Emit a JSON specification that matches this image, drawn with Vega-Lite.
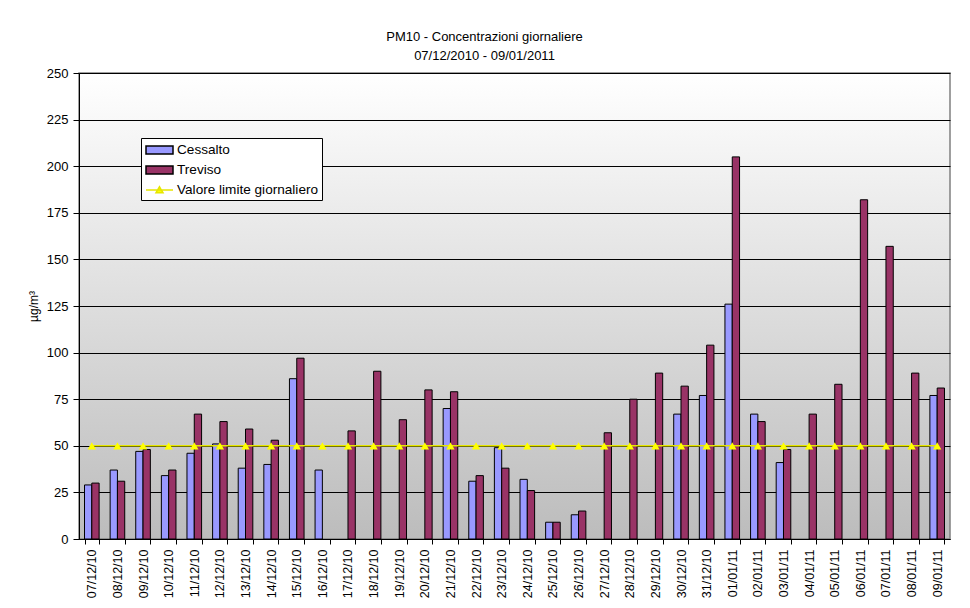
{
  "$schema": "https://vega.github.io/schema/vega-lite/v6.json",
  "width": 871,
  "height": 466,
  "autosize": {"type": "none"},
  "padding": {"left": 79, "top": 73, "right": 20, "bottom": 69},
  "background": "white",
  "title": {
    "text": ["PM10 - Concentrazioni giornaliere", "07/12/2010 - 09/01/2011"],
    "font": "Liberation Sans",
    "fontSize": 13,
    "fontWeight": "normal",
    "lineHeight": 19,
    "anchor": "middle",
    "dx": -30,
    "offset": 4,
    "color": "black"
  },
  "config": {
    "font": "Liberation Sans",
    "view": {
      "stroke": "#808080",
      "strokeWidth": 1.5,
      "fill": {
        "gradient": "linear",
        "x1": 0, "y1": 0, "x2": 0, "y2": 1,
        "stops": [
          {"offset": 0, "color": "#ffffff"},
          {"offset": 1, "color": "#bcbcbc"}
        ]
      }
    }
  },
  "data": {
    "values": [
      {"date": "07/12/10", "Cessalto": 29, "Treviso": 30, "Limite": 50},
      {"date": "08/12/10", "Cessalto": 37, "Treviso": 31, "Limite": 50},
      {"date": "09/12/10", "Cessalto": 47, "Treviso": 48, "Limite": 50},
      {"date": "10/12/10", "Cessalto": 34, "Treviso": 37, "Limite": 50},
      {"date": "11/12/10", "Cessalto": 46, "Treviso": 67, "Limite": 50},
      {"date": "12/12/10", "Cessalto": 51, "Treviso": 63, "Limite": 50},
      {"date": "13/12/10", "Cessalto": 38, "Treviso": 59, "Limite": 50},
      {"date": "14/12/10", "Cessalto": 40, "Treviso": 53, "Limite": 50},
      {"date": "15/12/10", "Cessalto": 86, "Treviso": 97, "Limite": 50},
      {"date": "16/12/10", "Cessalto": 37, "Treviso": null, "Limite": 50},
      {"date": "17/12/10", "Cessalto": null, "Treviso": 58, "Limite": 50},
      {"date": "18/12/10", "Cessalto": null, "Treviso": 90, "Limite": 50},
      {"date": "19/12/10", "Cessalto": null, "Treviso": 64, "Limite": 50},
      {"date": "20/12/10", "Cessalto": null, "Treviso": 80, "Limite": 50},
      {"date": "21/12/10", "Cessalto": 70, "Treviso": 79, "Limite": 50},
      {"date": "22/12/10", "Cessalto": 31, "Treviso": 34, "Limite": 50},
      {"date": "23/12/10", "Cessalto": 49, "Treviso": 38, "Limite": 50},
      {"date": "24/12/10", "Cessalto": 32, "Treviso": 26, "Limite": 50},
      {"date": "25/12/10", "Cessalto": 9, "Treviso": 9, "Limite": 50},
      {"date": "26/12/10", "Cessalto": 13, "Treviso": 15, "Limite": 50},
      {"date": "27/12/10", "Cessalto": null, "Treviso": 57, "Limite": 50},
      {"date": "28/12/10", "Cessalto": null, "Treviso": 75, "Limite": 50},
      {"date": "29/12/10", "Cessalto": null, "Treviso": 89, "Limite": 50},
      {"date": "30/12/10", "Cessalto": 67, "Treviso": 82, "Limite": 50},
      {"date": "31/12/10", "Cessalto": 77, "Treviso": 104, "Limite": 50},
      {"date": "01/01/11", "Cessalto": 126, "Treviso": 205, "Limite": 50},
      {"date": "02/01/11", "Cessalto": 67, "Treviso": 63, "Limite": 50},
      {"date": "03/01/11", "Cessalto": 41, "Treviso": 48, "Limite": 50},
      {"date": "04/01/11", "Cessalto": null, "Treviso": 67, "Limite": 50},
      {"date": "05/01/11", "Cessalto": null, "Treviso": 83, "Limite": 50},
      {"date": "06/01/11", "Cessalto": null, "Treviso": 182, "Limite": 50},
      {"date": "07/01/11", "Cessalto": null, "Treviso": 157, "Limite": 50},
      {"date": "08/01/11", "Cessalto": null, "Treviso": 89, "Limite": 50},
      {"date": "09/01/11", "Cessalto": 77, "Treviso": 81, "Limite": 50}
    ]
  },
  "layer": [
    {
      "transform": [
        {"fold": ["Cessalto", "Treviso"], "as": ["series", "value"]},
        {"filter": "datum.value != null"}
      ],
      "mark": {"type": "bar", "stroke": "black", "strokeWidth": 1},
      "encoding": {
        "x": {
          "field": "date",
          "type": "nominal",
          "sort": null,
          "scale": {"paddingInner": 0.43, "paddingOuter": 0.215},
          "axis": {
            "title": null,
            "labelAngle": -90,
            "labelFontSize": 12.5,
            "labelFont": "Liberation Sans",
            "labelColor": "black",
            "tickBand": "extent",
            "tickColor": "black",
            "domainColor": "black",
            "tickSize": 5,
            "labelPadding": 5,
            "grid": false
          }
        },
        "xOffset": {"field": "series", "scale": {"domain": ["Cessalto", "Treviso"], "paddingInner": 0}},
        "y": {
          "field": "value",
          "type": "quantitative",
          "scale": {"domain": [0, 250], "nice": false},
          "axis": {
            "title": "µg/m³",
            "values": [0, 25, 50, 75, 100, 125, 150, 175, 200, 225, 250],
            "grid": true,
            "gridColor": "black",
            "gridWidth": 1,
            "gridOpacity": 1,
            "tickColor": "black",
            "domainColor": "black",
            "tickSize": 6,
            "labelPadding": 5,
            "labelFontSize": 13,
            "labelFont": "Liberation Sans",
            "labelColor": "black",
            "titleFont": "Liberation Sans",
            "titleFontSize": 12,
            "titleFontWeight": "normal",
            "titleColor": "black",
            "titlePadding": 6
          }
        },
        "color": {
          "field": "series",
          "type": "nominal",
          "scale": {
            "domain": ["Cessalto", "Treviso", "Valore limite giornaliero"],
            "range": ["#9999ff", "#993366", "#ffffff"]
          },
          "legend": {
            "title": null,
            "orient": "none",
            "legendX": 62,
            "legendY": 65,
            "fillColor": "white",
            "strokeColor": "black",
            "padding": 3,
            "rowPadding": 4,
            "labelFont": "Liberation Sans",
            "labelFontSize": 13.6,
            "labelColor": "black",
            "labelOffset": 15,
            "symbolSize": 256,
            "symbolType": "M-0.875,-0.5H2.5V0.5H-0.875Z",
            "symbolOpacity": 1
          }
        }
      }
    },
    {
      "mark": {
        "type": "line",
        "color": "#ffff00",
        "stroke": "#e6e600",
        "fill": "#ffff00",
        "strokeWidth": 1.5,
        "point": {"shape": "triangle-up", "filled": true, "size": 70, "color": "#ffff00", "stroke": null}
      },
      "encoding": {
        "x": {"field": "date", "type": "nominal", "sort": null},
        "y": {"field": "Limite", "type": "quantitative"},
        "strokeDash": {
          "datum": "Valore limite giornaliero",
          "scale": {"range": [[1, 0]]},
          "legend": {
            "title": null,
            "orient": "none",
            "legendX": 65,
            "legendY": 108,
            "fillColor": "white",
            "padding": 0,
            "labelFont": "Liberation Sans",
            "labelFontSize": 13.6,
            "labelColor": "black",
            "labelOffset": 15,
            "symbolSize": 256,
            "symbolType": "M-0.875,0H2.5M0.81,-0.4L1.25,0.35L0.37,0.35Z",
            "symbolFillColor": "#ffff00",
            "symbolStrokeWidth": 1.5,
            "symbolOpacity": 1
          }
        }
      }
    }
  ]
}
